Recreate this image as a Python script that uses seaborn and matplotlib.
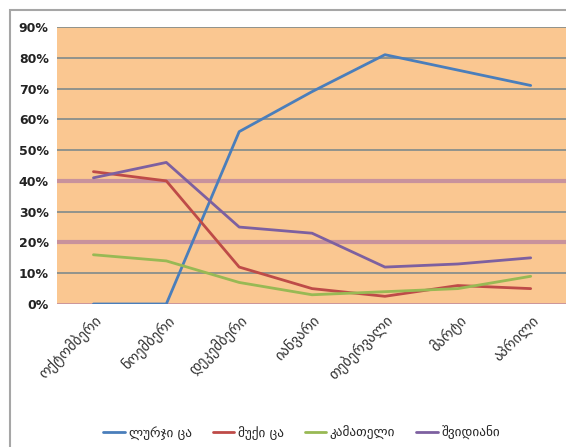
import matplotlib
matplotlib.use("Agg")
import matplotlib.pyplot as plt
import seaborn as sns
import pandas as pd
from matplotlib.patches import Rectangle

# data
months = ["ოქტომბერი", "ნოემბერი", "დეკემბერი", "იანვარი",
          "თებერვალი", "მარტი", "აპრილი"]
series_names = ["ლურჯი ცა", "მუქი ცა", "კამათელი", "შვიდიანი"]
blue_vals = [0, 0, 56, 69, 81, 76, 71]
red_vals = [43, 40, 12, 5, 2.5, 6, 5]
green_vals = [16, 14, 7, 3, 4, 5, 9]
purple_vals = [41, 46, 25, 23, 12, 13, 15]
y_ticks = [0, 10, 20, 30, 40, 50, 60, 70, 80, 90]

colors = ["#4A7EBB", "#BE4B48", "#98B954", "#7D60A0"]

rows = []
for name, vals in zip(series_names, [blue_vals, red_vals, green_vals, purple_vals]):
    for m, v in zip(months, vals):
        rows.append({"month": m, "value": v, "series": name})
df = pd.DataFrame(rows)

sns.set_style("white")
plt.rcParams["font.family"] = ["DejaVu Sans"]

fig = plt.figure(figsize=(5.66, 4.47), dpi=100)
ax = fig.add_axes([57 / 566, 1 - 304 / 447, 1 - 57 / 566 + 0.002, (304 - 27) / 447])

# outer chart frame
fig.patches.append(Rectangle((10 / 566, -0.05), 1.1, 1 - 10 / 447 + 0.05,
                             transform=fig.transFigure, fill=False,
                             edgecolor="#a6a6a6", linewidth=1.5, zorder=0))

ax.set_facecolor("#FAC791")

# gridlines
for t in y_ticks:
    if t in (0, 20, 40):
        ax.axhline(t, color="#C8929C", linewidth=3 if t else 2, zorder=1)
    else:
        ax.axhline(t, color="#7F8A8C", linewidth=1.2, zorder=1)

sns.lineplot(data=df, x="month", y="value", hue="series", palette=colors,
             linewidth=2.0, sort=False, ax=ax, zorder=3)

ax.set_xlim(-0.5, 6.5)
ax.set_ylim(0, 90)
ax.set_yticks(y_ticks)
ax.set_yticklabels([f"{t}%" for t in y_ticks], fontsize=9, fontweight="bold",
                   color="#222222")
ax.set_xticks(range(len(months)))
ax.set_xticklabels(months, rotation=45, ha="right", rotation_mode="anchor",
                   fontsize=10.5, color="#333333")
ax.tick_params(axis="both", length=0, pad=6)
ax.set_xlabel("")
ax.set_ylabel("")
for s in ax.spines.values():
    s.set_visible(False)

handles, labels = ax.get_legend_handles_labels()
ax.legend(handles, labels, loc="center", bbox_to_anchor=(0.5 - 0.02, -0.465),
          ncol=4, frameon=False, fontsize=9.5, handlelength=1.6,
          handletextpad=0.3, columnspacing=1.6)

fig.savefig("out.png", dpi=100)
